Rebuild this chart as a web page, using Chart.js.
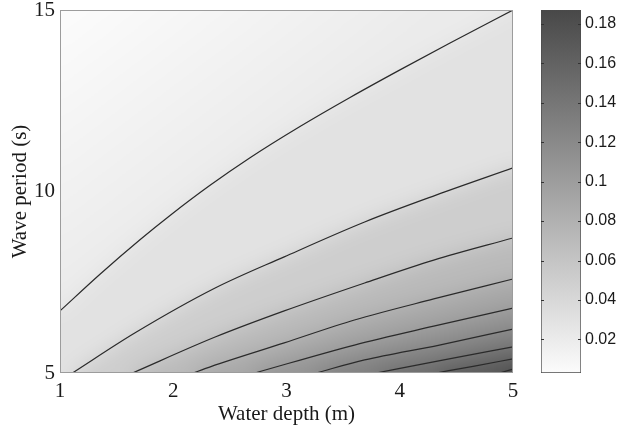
<!DOCTYPE html>
<html>
<head>
<meta charset="utf-8">
<script src="https://cdn.jsdelivr.net/npm/chart.js@4.4.0/dist/chart.umd.min.js"></script>
<style>
    html, body { margin: 0; padding: 0; background: #fff; }
    #wrap { position: relative; width: 619px; height: 431px; }
    #boxMain { position: absolute; left: 0; top: 0; width: 530px; height: 431px; }
    #boxBarra { position: absolute; left: 530px; top: 0; width: 89px; height: 431px; }
</style>
</head>
<body>
<div id="wrap">
    <div id="boxMain"><canvas id="grafico"></canvas></div>
    <div id="boxBarra"><canvas id="barra"></canvas></div>
</div>
<script>
// niveis das curvas (mesmos da barra de cores)
var niveis = [0.02, 0.04, 0.06, 0.08, 0.10, 0.12, 0.14, 0.16, 0.18];

// curvas: profundidade (m) x periodo (s)
var profA = [1.00, 1.353, 1.706, 1.98, 2.325, 2.678, 3.119, 3.561, 4.002, 4.444, 5.00];
var periodoA = [6.71, 7.72, 8.67, 9.36, 10.17, 10.93, 11.79, 12.59, 13.35, 14.09, 15.00];
var profB = [1.11, 1.66, 2.37, 2.98, 3.69, 4.32, 5.00];
var periodoB = [5.00, 6.10, 7.34, 8.20, 9.16, 9.90, 10.65];
var profC = [1.64, 2.37, 2.98, 3.69, 4.30, 5.00];
var periodoC = [5.00, 5.99, 6.71, 7.48, 8.11, 8.72];
var profD = [2.18, 2.28, 2.98, 3.60, 4.30, 5.00];
var periodoD = [5.00, 5.12, 5.83, 6.46, 7.04, 7.59];
var profE = [2.72, 3.60, 4.30, 5.00];
var periodoE = [5.00, 5.77, 6.29, 6.79];
var profF = [3.26, 3.69, 4.35, 5.00];
var periodoF = [5.00, 5.36, 5.77, 6.21];
var profG = [3.79, 4.39, 5.00];
var periodoG = [5.00, 5.36, 5.72];
var profH = [4.32, 4.66, 5.00];
var periodoH = [5.00, 5.19, 5.39];
var profI = [4.88, 5.00];
var periodoI = [5.00, 5.11];

// faixa da barra de cores
var minCor = 0.003;
var maxCor = 0.187;
var ticksBarra = [0.02, 0.04, 0.06, 0.08, 0.1, 0.12, 0.14, 0.16, 0.18];
var ticksX = [1, 2, 3, 4, 5];
var ticksY = [5, 10, 15];

var fonteSerif = 'Liberation Serif';
var fonteSans = 'Liberation Sans';

function cinza(v) {
    var t = (v - minCor) / (maxCor - minCor);
    if (t < 0) t = 0;
    if (t > 1) t = 1;
    var g = Math.round(252 - t * (252 - 72));
    return 'rgb(' + g + ',' + g + ',' + g + ')';
}

var curvas = [
    [profA, periodoA], [profB, periodoB], [profC, periodoC],
    [profD, periodoD], [profE, periodoE], [profF, periodoF],
    [profG, periodoG], [profH, periodoH], [profI, periodoI]
];

function pontosCurva(k) {
    var pontos = [];
    for (var j = 0; j < curvas[k][0].length; j++) {
        pontos.push({ x: curvas[k][0][j], y: curvas[k][1][j] });
    }
    return pontos;
}

// primeiro as faixas preenchidas, depois as linhas por cima
var conjuntos = [];
for (var i = 0; i < curvas.length; i++) {
    var proximo = i + 1 < niveis.length ? niveis[i + 1] : maxCor;
    conjuntos.push({
        label: 'faixa ' + niveis[i],
        data: pontosCurva(i),
        showLine: true,
        borderWidth: 0,
        borderColor: 'rgba(0,0,0,0)',
        pointRadius: 0,
        fill: 'start',
        backgroundColor: cinza((niveis[i] + proximo) / 2),
        cubicInterpolationMode: 'monotone',
        order: 200 - i
    });
}
for (var i = 0; i < curvas.length; i++) {
    conjuntos.push({
        label: 'nivel ' + niveis[i],
        data: pontosCurva(i),
        showLine: true,
        borderColor: '#2a2a2a',
        borderWidth: 1.2,
        pointRadius: 0,
        fill: false,
        cubicInterpolationMode: 'monotone',
        order: 50 - i
    });
}

// ponto mais proximo de q numa curva (em pixels)
function maisProximo(chart, k, q) {
    var xs = chart.scales.x, ys = chart.scales.y;
    var melhor = null, dist = Infinity;
    for (var j = 0; j < curvas[k][0].length - 1; j++) {
        var ax = xs.getPixelForValue(curvas[k][0][j]), ay = ys.getPixelForValue(curvas[k][1][j]);
        var bx = xs.getPixelForValue(curvas[k][0][j + 1]), by = ys.getPixelForValue(curvas[k][1][j + 1]);
        var dx = bx - ax, dy = by - ay;
        var t = ((q[0] - ax) * dx + (q[1] - ay) * dy) / (dx * dx + dy * dy);
        t = Math.max(0, Math.min(1, t));
        var px = ax + t * dx, py = ay + t * dy;
        var d = (px - q[0]) * (px - q[0]) + (py - q[1]) * (py - q[1]);
        if (d < dist) { dist = d; melhor = [px, py]; }
    }
    return melhor;
}

// fundo acima da primeira curva (degrade ate o nivel 0.02) + moldura
var fundoMoldura = {
    id: 'fundoMoldura',
    beforeDatasetsDraw: function (chart) {
        var a = chart.chartArea;
        var ctx = chart.ctx;
        var xs = chart.scales.x, ys = chart.scales.y;
        var canto = [xs.getPixelForValue(xs.min), ys.getPixelForValue(ys.max)];
        var fim = maisProximo(chart, 0, canto);
        var g = ctx.createLinearGradient(canto[0], canto[1], fim[0], fim[1]);
        g.addColorStop(0, cinza(minCor));
        g.addColorStop(1, cinza(niveis[0]));
        ctx.save();
        ctx.fillStyle = g;
        ctx.fillRect(a.left, a.top, a.right - a.left, a.bottom - a.top);
        ctx.restore();
    },
    afterDatasetsDraw: function (chart) {
        var a = chart.chartArea;
        var ctx = chart.ctx;
        ctx.save();
        ctx.strokeStyle = '#9c9c9c';
        ctx.lineWidth = 1;
        ctx.strokeRect(a.left + 0.5, a.top + 0.5, a.right - a.left - 1, a.bottom - a.top - 1);
        ctx.restore();
    }
};

// suaviza as faixas (depois da ultima faixa, antes das linhas)
var suavizar = {
    id: 'suavizar',
    afterDatasetDraw: function (chart, args) {
        if (args.index !== curvas.length - 1) return;
        var a = chart.chartArea;
        var ctx = chart.ctx;
        var src = chart.canvas;
        var r = chart.currentDevicePixelRatio || 1;
        var x0 = Math.round(a.left * r), y0 = Math.round(a.top * r);
        var w = Math.round((a.right - a.left) * r), h = Math.round((a.bottom - a.top) * r);
        var p = 50;
        var off = document.createElement('canvas');
        off.width = w + 2 * p;
        off.height = h + 2 * p;
        var o = off.getContext('2d');
        o.imageSmoothingEnabled = false;
        o.drawImage(src, x0, y0, w, h, p, p, w, h);
        o.drawImage(src, x0, y0, 1, h, 0, p, p, h);
        o.drawImage(src, x0 + w - 1, y0, 1, h, p + w, p, p, h);
        o.drawImage(src, x0, y0, w, 1, p, 0, w, p);
        o.drawImage(src, x0, y0 + h - 1, w, 1, p, p + h, w, p);
        o.drawImage(src, x0, y0, 1, 1, 0, 0, p, p);
        o.drawImage(src, x0 + w - 1, y0, 1, 1, p + w, 0, p, p);
        o.drawImage(src, x0, y0 + h - 1, 1, 1, 0, p + h, p, p);
        o.drawImage(src, x0 + w - 1, y0 + h - 1, 1, 1, p + w, p + h, p, p);
        ctx.save();
        ctx.setTransform(1, 0, 0, 1, 0, 0);
        ctx.beginPath();
        ctx.rect(x0, y0, w, h);
        ctx.clip();
        ctx.filter = 'blur(10px)';
        ctx.drawImage(off, x0 - p, y0 - p);
        ctx.restore();
    }
};

new Chart(document.getElementById('grafico'), {
    type: 'scatter',
    data: { datasets: conjuntos },
    options: {
        animation: false,
        responsive: true,
        maintainAspectRatio: false,
        layout: { padding: { top: 10, right: 17, left: 0, bottom: 0 } },
        plugins: { legend: { display: false }, tooltip: { enabled: false } },
        scales: {
            x: {
                type: 'linear',
                min: 1,
                max: 5,
                afterBuildTicks: function (s) { s.ticks = ticksX.map(function (v) { return { value: v }; }); },
                ticks: { padding: 6, color: '#1a1a1a', font: { family: fonteSerif, size: 21 } },
                grid: { display: false, drawTicks: false },
                border: { display: false },
                title: {
                    display: true,
                    text: 'Water depth (m)',
                    color: '#1a1a1a',
                    font: { family: fonteSerif, size: 21 },
                    padding: { top: 0, bottom: 4 }
                },
                afterFit: function (s) { s.height = 58; s.paddingLeft = 0; s.paddingRight = 0; }
            },
            y: {
                type: 'linear',
                min: 5,
                max: 15,
                afterBuildTicks: function (s) { s.ticks = ticksY.map(function (v) { return { value: v }; }); },
                ticks: { padding: 5, color: '#1a1a1a', font: { family: fonteSerif, size: 21 } },
                grid: { display: false, drawTicks: false },
                border: { display: false },
                title: {
                    display: true,
                    text: 'Wave period (s)',
                    color: '#1a1a1a',
                    font: { family: fonteSerif, size: 21 },
                    padding: { top: 8, bottom: 0 }
                },
                afterFit: function (s) { s.width = 60; s.paddingTop = 0; s.paddingBottom = 0; }
            }
        }
    },
    plugins: [fundoMoldura, suavizar]
});

// marquinhas dentro da barra de cores
var marcasBarra = {
    id: 'marcasBarra',
    afterDatasetsDraw: function (chart) {
        var a = chart.chartArea;
        var esc = chart.scales.y;
        var ctx = chart.ctx;
        ctx.save();
        ctx.strokeStyle = '#333';
        ctx.lineWidth = 1;
        for (var i = 0; i < ticksBarra.length; i++) {
            var y = Math.round(esc.getPixelForValue(ticksBarra[i])) + 0.5;
            ctx.beginPath();
            ctx.moveTo(a.left, y);
            ctx.lineTo(a.left + 3, y);
            ctx.moveTo(a.right - 3, y);
            ctx.lineTo(a.right, y);
            ctx.stroke();
        }
        ctx.restore();
    }
};

new Chart(document.getElementById('barra'), {
    type: 'bar',
    data: {
        labels: [''],
        datasets: [{
            data: [[minCor, maxCor]],
            backgroundColor: function (c) {
                var chart = c.chart;
                if (!chart.chartArea) return cinza(0.1);
                var esc = chart.scales.y;
                var g = chart.ctx.createLinearGradient(0, esc.getPixelForValue(minCor), 0, esc.getPixelForValue(maxCor));
                g.addColorStop(0, cinza(minCor));
                g.addColorStop(1, cinza(maxCor));
                return g;
            },
            borderColor: '#4a4a4a',
            borderWidth: 1,
            borderSkipped: false,
            barPercentage: 1,
            categoryPercentage: 1
        }]
    },
    options: {
        animation: false,
        responsive: true,
        maintainAspectRatio: false,
        layout: { padding: { left: 11, top: 10, right: 0, bottom: 58 } },
        plugins: { legend: { display: false }, tooltip: { enabled: false } },
        scales: {
            x: { display: false },
            y: {
                position: 'right',
                min: minCor,
                max: maxCor,
                afterBuildTicks: function (s) { s.ticks = ticksBarra.map(function (v) { return { value: v }; }); },
                ticks: {
                    padding: 4,
                    color: '#1a1a1a',
                    font: { family: fonteSans, size: 16 },
                    callback: function (v) { return String(+v.toFixed(2)); }
                },
                grid: { display: false, drawTicks: false },
                border: { display: false },
                afterFit: function (s) { s.width = 38; s.paddingTop = 0; s.paddingBottom = 0; }
            }
        }
    },
    plugins: [marcasBarra]
});
</script>
</body>
</html>
